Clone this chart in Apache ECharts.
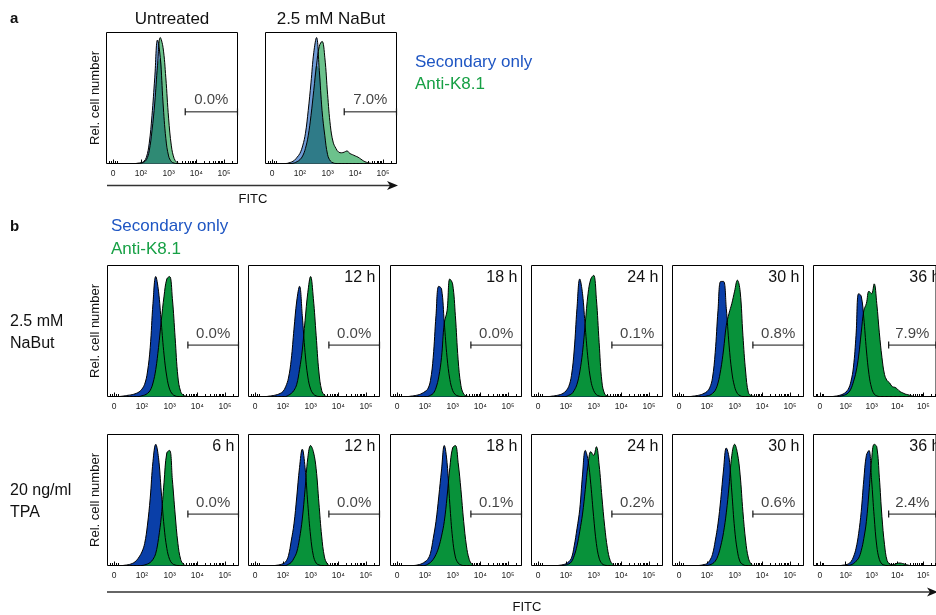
<!DOCTYPE html>
<html>
<head>
<meta charset="utf-8">
<script src="https://cdn.jsdelivr.net/npm/echarts@6/dist/echarts.min.js"></script>
<style>
  html, body { margin: 0; padding: 0; background: #fff; }
  #chart { width: 936px; height: 615px; }
</style>
</head>
<body>
<div id="chart"></div>
<script>
// FITC channel positions on the display scale, in decades: 1 = 0, 2 = 10², 3 = 10³ ...
const fitcDecades = [1.2, 1.3, 1.4, 1.5, 1.6, 1.7, 1.8, 1.9, 2.0, 2.1, 2.2, 2.3, 2.4, 2.5, 2.6, 2.7, 2.8, 2.9, 3.0, 3.1, 3.2, 3.3, 3.4, 3.5, 3.6, 3.7, 3.8, 3.9, 4.0, 4.1, 4.2, 4.3, 4.4, 4.5, 4.6];
const fitcTickValues = [1, 2, 3, 4, 5];
const fitcTickLabels = ['0', '10²', '10³', '10⁴', '10⁵'];

// Panel a: untreated vs. 2.5 mM NaBut (relative cell number, % of mode)
const untreatedSecondary = [0,0,0,0,0, 0,0,0.3,0.6,1.5, 5,16,38,68,98, 84,48,20,6,1.5, 0.3,0,0,0,0, 0,0,0,0,0, 0,0,0,0,0];
const untreatedK81      = [0,0,0,0,0, 0,0,0,0.3,1, 3,10,26,48,78, 100,92,68,36,14, 4,0.8,0,0,0, 0,0,0,0,0, 0,0,0,0,0];
const nabutSecondary    = [0,0,0,0,0.5, 1.2,2.5,5,8,14, 24,42,64,88,100, 74,42,22,7,2, 0.5,0,0,0,0, 0,0,0,0,0, 0,0,0,0,0];
const nabutK81          = [0,0,0,0,0, 0,0.5,1.5,3,6, 12,22,38,58,78, 93,97,84,55,30, 17,12,9,8.5,9, 10,8,7,6,5, 3.5,2,1,0.4,0];
const titlesA  = ['Untreated', '2.5 mM NaBut'];
const percentA = ['0.0%', '7.0%'];

// Panel b, 2.5 mM NaBut time course: secondary only
const nabutSec0h  = [0,0.3,0.6,1,1.3, 1.8,2.6,3.8,6,10, 20,40,76,98,86, 60,34,16,6,2, 0.5,0,0,0,0, 0,0,0,0,0, 0,0,0,0,0];
const nabutSec12h = [0,0,0,0.3,0.6, 1,1.6,2.5,4,8, 15,30,55,78,90, 66,36,16,6,2, 0.5,0,0,0,0, 0,0,0,0,0, 0,0,0,0,0];
const nabutSec18h = [0,0,0,0.3,0.6, 1,1.6,2.6,4,6, 13,32,66,90,88, 60,32,14,5,1.5, 0.4,0,0,0,0, 0,0,0,0,0, 0,0,0,0,0];
const nabutSec24h = [0,0,0,0.3,0.6, 1,1.6,2.6,4.5,8, 17,38,72,96,84, 56,30,13,5,1.5, 0.4,0,0,0,0, 0,0,0,0,0, 0,0,0,0,0];
const nabutSec30h = [0,0,0,0.3,0.6, 1,1.6,2.6,4,7, 15,36,70,94,94, 72,42,20,8,2.5, 0.6,0,0,0,0, 0,0,0,0,0, 0,0,0,0,0];
const nabutSec36h = [0,0,0,0,0.3, 0.6,1.2,2,3.5,6, 12,24,50,84,82, 64,38,18,7,2, 0.5,0,0,0,0, 0,0,0,0,0, 0,0,0,0,0];
// Panel b, 2.5 mM NaBut time course: anti-K8.1
const nabutK81_0h  = [0,0,0,0,0, 0,0,0,0.6,1.2, 2.5,5,11,22,40, 62,82,96,98,80, 48,16,4,1,0.3, 0,0,0,0,0, 0,0,0,0,0];
const nabutK81_12h = [0,0,0,0,0, 0,0,0,0,0, 1,2.5,5,10,22, 38,62,85,98,80, 50,20,5,1,0, 0,0,0,0,0, 0,0,0,0,0];
const nabutK81_18h = [0,0,0,0,0, 0,0,0,0,0, 1,2.5,7,16,32, 60,70,96,92,66, 30,9,2,0.5,0, 0,0,0,0,0, 0,0,0,0,0];
const nabutK81_24h = [0,0,0,0,0, 0,0,0,0,1, 2,5,10,20,36, 60,84,96,99,80, 44,12,2,0.5,0, 0,0,0,0,0, 0,0,0,0,0];
const nabutK81_30h = [0,0,0,0,0, 0,0,0,0.5,1, 2.5,5,11,22,38, 58,68,76,86,95, 86,50,20,3,0.8, 0.2,0,0,0,0, 0,0,0,0,0];
const nabutK81_36h = [0,0,0,0,0, 0,0.3,0.8,1.5,3, 6,12,20,33,52, 70,76,86,84,92, 76,52,32,18,13, 11,8,7.5,6,4, 3,2,1.5,0.8,0.3];

// Panel b, 20 ng/ml TPA time course: secondary only
const tpaSec6h  = [0,0,0.3,0.6,1.2, 2.2,4,7,11,18, 33,55,85,99,88, 60,32,14,5,1.5, 0.4,0,0,0,0, 0,0,0,0,0, 0,0,0,0,0];
const tpaSec12h = [0,0,0,0,0, 0,0.3,0.7,1.5,3, 8,20,34,56,80, 95,80,50,24,8, 2,0.5,0,0,0, 0,0,0,0,0, 0,0,0,0,0];
const tpaSec18h = [0,0,0,0,0, 0.3,0.8,1.6,3,5, 10,22,36,56,78, 98,84,50,22,7, 2,0.5,0,0,0, 0,0,0,0,0, 0,0,0,0,0];
const tpaSec24h = [0,0,0,0,0, 0,0.3,0.7,1.4,3, 6,16,30,46,74, 94,86,66,40,18, 6,1.5,0.3,0,0, 0,0,0,0,0, 0,0,0,0,0];
const tpaSec30h = [0,0,0,0,0, 0,0.3,0.8,1.5,4, 9,20,34,54,78, 96,88,60,30,12, 3,0.8,0,0,0, 0,0,0,0,0, 0,0,0,0,0];
const tpaSec36h = [0,0,0,0,0, 0,0,0.3,0.6,1.3, 3,7,14,26,44, 70,90,94,70,40, 16,5,1.2,0.3,0, 0,0,0,0,0, 0,0,0,0,0];
// Panel b, 20 ng/ml TPA time course: anti-K8.1
const tpaK81_6h  = [0,0,0,0,0, 0,0,0,0,0.5, 1.2,2.5,5,10,22, 40,68,92,94,70, 42,18,5,1,0, 0,0,0,0,0, 0,0,0,0,0];
const tpaK81_12h = [0,0,0,0,0, 0,0,0,0,0, 1,2.5,6,11,22, 38,62,88,98,93, 79,51,24,7,1.5, 0,0,0,0,0, 0,0,0,0,0];
const tpaK81_18h = [0,0,0,0,0, 0,0,0,0,1, 2.5,5,9,15,24, 36,56,80,96,98, 84,62,36,16,5, 1,0,0,0,0, 0,0,0,0,0];
const tpaK81_24h = [0,0,0,0,0, 0,0,0,0.4,1.2, 3,8,16,28,42, 62,82,93,90,97, 82,56,32,14,4, 0.8,0,0,0,0, 0,0,0,0,0];
const tpaK81_30h = [0,0,0,0,0, 0,0,0,0,0.5, 1.5,3.5,8,16,27, 43,65,90,99,92, 74,44,20,6,1.2, 0,0,0,0,0, 0,0,0,0,0];
const tpaK81_36h = [0,0,0,0,0, 0,0,0,0,0, 0.5,1.5,3.5,6,12, 22,36,60,86,99, 97,72,40,17,4, 1.2,0.8,1,1.8,2, 1.6,1,0.4,0,0];

const timesNaBut   = ['', '12 h', '18 h', '24 h', '30 h', '36 h'];
const timesTPA     = ['6 h', '12 h', '18 h', '24 h', '30 h', '36 h'];
const percentNaBut = ['0.0%', '0.0%', '0.0%', '0.1%', '0.8%', '7.9%'];
const percentTPA   = ['0.0%', '0.0%', '0.1%', '0.2%', '0.6%', '2.4%'];

// ---------- layout and style ----------
const FONT = '"Liberation Sans", Arial, Helvetica, sans-serif';
const PANEL = 131;                       // panel side, px
const DECADE_PX = 27.7;                  // px per display decade
const X_MIN = 1 - 6.7 / DECADE_PX;       // a little below zero
const X_MAX = X_MIN + PANEL / DECADE_PX; // ~2.6 x 10^5
const GATE_Y = 42;
const SMOOTH = 0.4;

const BLUE = '#0a3fa8', GREEN = '#08923a';
const LIGHT_BLUE = '#6f9bd6', LIGHT_GREEN = '#6cc28c';
const LEGEND_BLUE = '#1f56c3', LEGEND_GREEN = '#17a045';

// log-spaced minor ticks between the labelled decades, plus a few around zero
const minorTicks = [0.85, 0.92, 1.08, 1.15];
for (let n = 2; n <= 5; n++) {
  for (let k = 2; k <= 9; k++) {
    const v = n + Math.log10(k);
    if (v < X_MAX) minorTicks.push(v);
  }
}

const grids = [], xAxes = [], yAxes = [], series = [], graphics = [];

function pairs(values) {
  return fitcDecades.map((x, i) => [x, values[i]]);
}

function addPanel(left, top, yMax) {
  const gi = grids.length;
  grids.push({
    left: left, top: top, width: PANEL, height: PANEL,
    show: true, borderColor: '#000', borderWidth: 1,
    backgroundColor: 'rgba(0,0,0,0)', containLabel: false
  });
  xAxes.push({
    gridIndex: gi, type: 'value', min: X_MIN, max: X_MAX, position: 'bottom',
    axisLine: { show: false }, splitLine: { show: false },
    axisTick: { show: true, inside: true, length: 4, customValues: fitcTickValues,
                lineStyle: { color: '#000', width: 1 } },
    axisLabel: { show: true, customValues: fitcTickValues, margin: 6,
                 fontSize: 8.5, color: '#222', fontFamily: FONT,
                 formatter: v => fitcTickLabels[fitcTickValues.indexOf(v)] }
  });
  xAxes.push({
    gridIndex: gi, type: 'value', min: X_MIN, max: X_MAX, position: 'bottom',
    axisLine: { show: false }, splitLine: { show: false }, axisLabel: { show: false },
    axisTick: { show: true, inside: true, length: 2.5, customValues: minorTicks,
                lineStyle: { color: '#000', width: 1 } }
  });
  yAxes.push({ gridIndex: gi, type: 'value', min: 0, max: yMax, show: false });
  return { xi: 2 * gi, yi: gi };
}

function areaSeries(ax, values, fill, withLine) {
  return {
    type: 'line', xAxisIndex: ax.xi, yAxisIndex: ax.yi, data: pairs(values),
    smooth: SMOOTH, symbol: 'none', silent: true, animation: false,
    lineStyle: withLine ? { color: '#000', width: 1 } : { width: 0, opacity: 0 },
    areaStyle: { color: fill, opacity: 1 },
    emphasis: { disabled: true }
  };
}

function outlineSeries(ax, values) {
  return {
    type: 'line', xAxisIndex: ax.xi, yAxisIndex: ax.yi, data: pairs(values),
    smooth: SMOOTH, symbol: 'none', silent: true, animation: false,
    lineStyle: { color: '#000', width: 1 }, emphasis: { disabled: true }
  };
}

function addGate(ax, from, gateY, pct) {
  series.push({
    type: 'line', xAxisIndex: ax.xi, yAxisIndex: ax.yi,
    data: [[from, gateY], [X_MAX, gateY]], clip: false,
    symbol: 'rect', symbolSize: [1.2, 7], showSymbol: true, silent: true, animation: false,
    lineStyle: { color: '#111', width: 1 }, itemStyle: { color: '#111' },
    emphasis: { disabled: true }
  });
  series.push({
    type: 'scatter', xAxisIndex: ax.xi, yAxisIndex: ax.yi,
    data: [[(from + X_MAX) / 2, gateY]], symbolSize: 0, silent: true, animation: false,
    label: { show: true, position: 'top', distance: 4, formatter: pct,
             fontSize: 15, lineHeight: 15, color: '#111', fontFamily: FONT }
  });
}

function text(x, y, str, opts) {
  graphics.push({
    type: 'text', x: x, y: y, rotation: opts.rotation || 0, silent: true,
    style: Object.assign({ text: str, fontFamily: FONT, fontSize: 13, fill: '#111',
                           align: 'left', verticalAlign: 'middle' }, opts.style || {})
  });
}

function arrow(x1, x2, y) {
  graphics.push({ type: 'line', silent: true, shape: { x1: x1, y1: y, x2: x2 - 6, y2: y },
                  style: { stroke: '#333', lineWidth: 1.5 } });
  graphics.push({ type: 'polygon', silent: true,
                  shape: { points: [[x2, y], [x2 - 11, y - 4.5], [x2 - 8, y], [x2 - 11, y + 4.5]] },
                  style: { fill: '#111' } });
}

// ---------- panel a ----------
const aLefts = [106.5, 265.5], aTop = 32.5, aYMax = 104;
const aSecondary = [untreatedSecondary, nabutSecondary];
const aK81 = [untreatedK81, nabutK81];
const aOverlap = ['#2f8a74', '#2f7b88'];
aLefts.forEach((left, i) => {
  const ax = addPanel(left, aTop, aYMax);
  const both = aSecondary[i].map((v, j) => Math.min(v, aK81[i][j]));
  series.push(areaSeries(ax, aK81[i], LIGHT_GREEN, false));
  series.push(areaSeries(ax, aSecondary[i], LIGHT_BLUE, false));
  series.push(areaSeries(ax, both, aOverlap[i], false));
  series.push(outlineSeries(ax, aK81[i]));
  series.push(outlineSeries(ax, aSecondary[i]));
  addGate(ax, 3.6, 41, percentA[i]);
  text(left + PANEL / 2, 19, titlesA[i], { style: { fontSize: 17, align: 'center' } });
});
text(95, aTop + PANEL / 2, 'Rel. cell number', { rotation: Math.PI / 2, style: { align: 'center' } });
arrow(107, 398, 185.5);
text(253, 199, 'FITC', { style: { align: 'center', fontSize: 13 } });
text(415, 62.5, 'Secondary only', { style: { fontSize: 17, fill: LEGEND_BLUE } });
text(415, 84, 'Anti-K8.1', { style: { fontSize: 17, fill: LEGEND_GREEN } });
text(10, 19, 'a', { style: { fontSize: 15, fontWeight: 'bold' } });

// ---------- panel b ----------
const bLefts = [107.5, 248.5, 390.5, 531.5, 672.5, 813.5];
const bRows = [
  { top: 265.5, sec: [nabutSec0h, nabutSec12h, nabutSec18h, nabutSec24h, nabutSec30h, nabutSec36h],
    k81: [nabutK81_0h, nabutK81_12h, nabutK81_18h, nabutK81_24h, nabutK81_30h, nabutK81_36h],
    times: timesNaBut, pct: percentNaBut, label: ['2.5 mM', 'NaBut'] },
  { top: 434.5, sec: [tpaSec6h, tpaSec12h, tpaSec18h, tpaSec24h, tpaSec30h, tpaSec36h],
    k81: [tpaK81_6h, tpaK81_12h, tpaK81_18h, tpaK81_24h, tpaK81_30h, tpaK81_36h],
    times: timesTPA, pct: percentTPA, label: ['20 ng/ml', 'TPA'] }
];
bRows.forEach(row => {
  bLefts.forEach((left, i) => {
    const ax = addPanel(left, row.top, 107);
    series.push(areaSeries(ax, row.sec[i], BLUE, true));
    series.push(areaSeries(ax, row.k81[i], GREEN, true));
    addGate(ax, 3.66, GATE_Y, row.pct[i]);
    if (row.times[i]) {
      text(left + PANEL - 4, row.top + 12.5, row.times[i], { style: { fontSize: 16, align: 'right' } });
    }
  });
  text(95, row.top + PANEL / 2, 'Rel. cell number', { rotation: Math.PI / 2, style: { align: 'center' } });
  text(10, row.top + 56, row.label[0], { style: { fontSize: 16 } });
  text(10, row.top + 78, row.label[1], { style: { fontSize: 16 } });
});
arrow(107, 938, 592);
text(527, 607, 'FITC', { style: { align: 'center', fontSize: 13 } });
text(111, 226, 'Secondary only', { style: { fontSize: 17, fill: LEGEND_BLUE } });
text(111, 249, 'Anti-K8.1', { style: { fontSize: 17, fill: LEGEND_GREEN } });
text(10, 227, 'b', { style: { fontSize: 15, fontWeight: 'bold' } });

const chart = echarts.init(document.getElementById('chart'), null, { renderer: 'canvas' });
chart.setOption({
  animation: false,
  backgroundColor: '#fff',
  textStyle: { fontFamily: FONT },
  grid: grids,
  xAxis: xAxes,
  yAxis: yAxes,
  series: series,
  graphic: graphics
});
</script>
</body>
</html>
